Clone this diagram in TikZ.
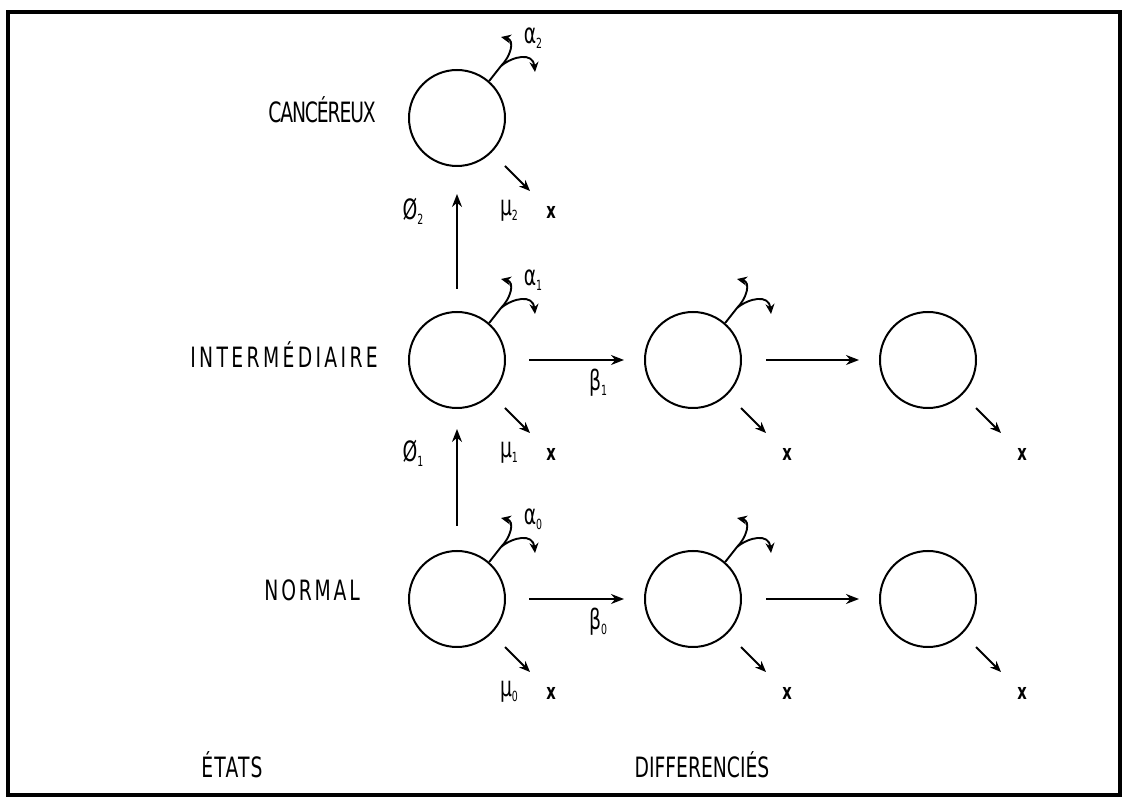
\documentclass[tikz,border=0pt]{standalone}
\usepackage{fontspec}
\newfontfamily\lettrage[FakeStretch=0.67]{DejaVu Sans}
\newcommand{\indice}[1]{\raisebox{-5pt}{\fontsize{14}{14}\selectfont#1}}
\usetikzlibrary{calc,arrows.meta,positioning}
\tikzset{
  cellule/.style={circle, draw, line width=2pt, minimum size=96pt, inner sep=0pt},
  etat/.style={font=\lettrage\fontsize{28}{30}\selectfont, inner sep=0pt},
  fleche/.style={-{Stealth[length=13pt,width=10pt]}, line width=1.8pt},
  perte/.style={-{Stealth[length=11pt,width=9pt]}, line width=2pt},
  boucle/.style={-{Stealth[length=10pt,width=9pt]}, line width=1.9pt},
  taux/.style={font=\lettrage\fontsize{28}{30}\selectfont, inner sep=0pt},
  mort/.style={font=\lettrage\bfseries\fontsize{22}{24}\selectfont, inner sep=0pt}
}

\begin{document}
\begin{tikzpicture}[x=1pt, y=1pt]
	\useasboundingbox (0,0) rectangle (1122,800);
	\draw[line width=3.2pt] (8,5) rectangle (1120,788);

	% cellules souches
	\node[cellule] (I1) at (457,440) {};
	\node[cellule, above=144pt of I1] (C2) {};
	\node[cellule, below=141pt of I1] (N0) {};
	% cellules differenciees
	\node[cellule, right=138pt of I1] (I2) {};
	\node[cellule, right=137pt of I2] (I3) {};
	\node[cellule, right=138pt of N0] (N2) {};
	\node[cellule, right=137pt of N2] (N3) {};

	% etats
	\node[etat, anchor=east] (tc) at (376,690) {\addfontfeature{LetterSpace=-4}CANCÉREUX};
	\node[etat, anchor=east] (ti) at (378,445) {\addfontfeature{LetterSpace=12}INTERMÉDIAIRE};
	\node[etat, anchor=east] (tn) at (360,210) {\addfontfeature{LetterSpace=10}NORMAL};
	\node[etat] (te) at (232,35) {\addfontfeature{LetterSpace=4}ÉTATS};
	\node[etat] (td) at (702,35) {DIFFERENCIÉS};

	% transitions
	\draw[fleche, shorten <=22pt, shorten >=27pt] (I1) -- (C2);
	\draw[fleche, shorten <=24pt, shorten >=20pt] (N0) -- (I1);
	\draw[fleche, shorten <=23pt, shorten >=20pt] (I1) -- (I2);
	\draw[fleche, shorten <=24pt, shorten >=20pt] (I2) -- (I3);
	\draw[fleche, shorten <=23pt, shorten >=20pt] (N0) -- (N2);
	\draw[fleche, shorten <=24pt, shorten >=20pt] (N2) -- (N3);

	\node[taux] (phi2) at ($(C2)+(-44,-93)$) {Ø\indice{2}};
	\node[taux] (phi1) at ($(I1)+(-44,-93)$) {Ø\indice{1}};
	\node[taux] (beta1) at ($(I1)+(141,-23)$) {β\indice{1}};
	\node[taux] (beta0) at ($(N0)+(141,-23)$) {β\indice{0}};

	% renouvellement et mort
	\foreach \c/\i in {C2/2, I1/1, N0/0} {
		\node[taux] (alpha\i) at ($(\c)+(76,80)$) {α\indice{\i}};
		\node[taux] (mu\i) at ($(\c)+(52,-93)$) {μ\indice{\i}};
	}
	\foreach \c in {C2,I1,N0,I2,N2} {
		\draw[line width=1.9pt] (\c.49) -- ($(\c)+(44,52)$) coordinate (r\c);
		\draw[boucle] (r\c) .. controls ($(\c)+(54,62)$) and ($(\c)+(58,78)$) .. ($(\c)+(44,81)$);
		\draw[boucle] (r\c) .. controls ($(\c)+(56,62)$) and ($(\c)+(76,66)$) .. ($(\c)+(78,46)$);
	}
	\foreach \c in {C2,I1,N0,I2,I3,N2,N3} {
		\draw[perte] ($(\c)+(48,-48)$) -- ($(\c)+(73,-73)$);
		\node[mort] (x\c) at ($(\c)+(94,-94)$) {x};
	}
\end{tikzpicture}
\end{document}
